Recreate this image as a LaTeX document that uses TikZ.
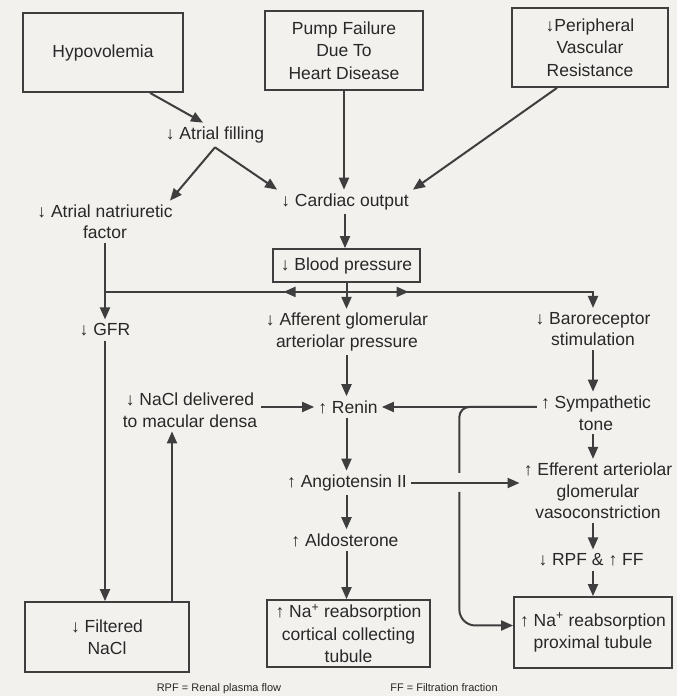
\documentclass[tikz,border=0pt]{standalone}
\usepackage{fontspec}
\setmainfont{Liberation Sans}
\usepackage{tikz}
\usetikzlibrary{arrows.meta, calc}
\definecolor{inkgray}{RGB}{62,62,62}
\definecolor{textgray}{RGB}{40,40,40}
\definecolor{paper}{RGB}{242,241,238}

\begin{document}
\begin{tikzpicture}[
			x=1pt, y=1pt,
			every node/.style={text=textgray},
			box/.style={rectangle, draw=inkgray, line width=1.8pt, align=center, font=\fontsize{17.5}{22.5}\selectfont, inner sep=3pt},
			lbl/.style={align=center, font=\fontsize{17.5}{21.5}\selectfont, inner sep=4pt},
			note/.style={font=\fontsize{11}{13}\selectfont, inner sep=1pt},
			link/.style={draw=inkgray, line width=2pt},
			arrow/.style={link, -{Triangle[length=12pt, width=10pt]}}
		]
		\fill[paper] (0,0) rectangle (677,696);
		\useasboundingbox (0,0) rectangle (677,696);

		% Causes
		\node[box, minimum width=160pt, minimum height=79pt] (hypo) at (103,643.5) {Hypovolemia};
		\node[box, minimum width=158pt, minimum height=79pt] (pump) at (344,645.5) {Pump Failure\\Due To\\Heart Disease};
		\node[box, minimum width=156pt, minimum height=79pt] (pvr) at (590,648.5) {↓Peripheral\\Vascular\\Resistance};

		\node[lbl] (atrfill) at (215,561) {↓ Atrial filling};
		\node[lbl] (anf) at (105,474) {↓ Atrial natriuretic\\factor};
		\node[lbl] (co) at (345,494) {↓ Cardiac output};
		\node[box, minimum width=147pt, minimum height=33pt] (bp) at (346.5,430.5) {↓ Blood pressure};

		\node[lbl] (gfr) at (105,366) {↓ GFR};
		\node[lbl] (aff) at (347,364) {↓ Afferent glomerular\\arteriolar pressure};
		\node[lbl] (baro) at (593,367) {↓ Baroreceptor\\stimulation};
		\node[lbl] (nacl) at (190,286) {↓ NaCl delivered\\to macular densa};
		\node[lbl] (renin) at (348,289) {↑ Renin};
		\node[lbl] (symp) at (596,283) {↑ Sympathetic\\tone};
		\node[lbl] (ang) at (347,213) {↑ Angiotensin II};
		\node[lbl] (eff) at (598,205) {↑ Efferent arteriolar\\glomerular\\vasoconstriction};
		\node[lbl] (ald) at (345,156) {↑ Aldosterone};
		\node[lbl] (rpf) at (591,136) {↓ RPF \& ↑ FF};

		% Outcomes
		\node[box, minimum width=164pt, minimum height=70pt] (filt) at (107,59) {↓ Filtered\\NaCl};
		\node[box, minimum width=163pt, minimum height=67pt] (cct) at (348.5,62.5) {↑ Na\textsuperscript{+} reabsorption\\cortical collecting\\tubule};
		\node[box, minimum width=158pt, minimum height=71pt] (prox) at (593,63.5) {↑ Na\textsuperscript{+} reabsorption\\proximal tubule};

		\node[note] (fn1) at (219,7) {RPF = Renal plasma flow};
		\node[note] (fn2) at (444,8) {FF = Filtration fraction};

		\draw[arrow] ([xshift=47pt]hypo.south) -- ([xshift=-12pt]atrfill.north);
		\draw[arrow] (atrfill.south) -- ([xshift=65pt]anf.north);
		\draw[arrow] (atrfill.south) -- (co.north west);
		\draw[arrow] (pump.south) -- (pump.south |- co.north);
		\draw[arrow] ([xshift=-33pt]pvr.south) -- (co.north east);
		\draw[arrow] (co.south) -- (co.south |- bp.north);

		% Blood pressure split
		\coordinate (split) at ([yshift=-9pt]bp.south);
		\draw[arrow] (bp.south) -- (bp.south |- aff.north);
		\draw[link] (split) -- (split -| anf.south);
		\draw[arrow] (split) -- ([xshift=-63pt]split);
		\draw[arrow] (split) -- ([xshift=62pt]split);
		\draw[arrow] (split) -- (split -| baro.north) -- (baro.north);
		\draw[arrow] (anf.south) -- (anf.south |- gfr.north);

		\draw[arrow] (aff.south -| bp.south) -- (renin.north -| bp.south);
		\draw[arrow] (renin.south -| bp.south) -- (ang.north -| bp.south);
		\draw[arrow] (ang.south -| bp.south) -- (ald.north -| bp.south);
		\draw[arrow] (ald.south -| bp.south) -- (cct.north -| bp.south);

		\draw[arrow] (baro.south) -- (baro.south |- symp.north);
		\draw[arrow] (symp.south -| baro.south) -- (eff.north -| baro.south);
		\draw[arrow] (eff.south -| baro.south) -- (rpf.north -| baro.south);
		\draw[arrow] (rpf.south -| baro.south) -- (prox.north -| baro.south);

		\draw[arrow] (gfr.south) -- (gfr.south |- filt.north);
		\draw[arrow] ([xshift=65pt]filt.north) -- ([xshift=65pt]filt.north |- nacl.south);
		\draw[arrow] (nacl.east |- renin.west) -- (renin.west);

		% Sympathetic branch
		\coordinate (tap) at (renin.east -| symp.west);
		\coordinate (elbow) at ($(renin.east)!.5!(tap)$);
		\draw[arrow] (tap) -- (renin.east);
		\draw[link, rounded corners=10pt] (tap) -- (elbow) -- ([yshift=10pt]elbow |- ang.east);
		\draw[arrow, rounded corners=16pt] ([yshift=-9pt]elbow |- ang.east) -- ([yshift=7pt]elbow |- prox.west) -- ([yshift=7pt]prox.west);
		\draw[arrow] (ang.east) -- (ang.east -| eff.west);
		\end{tikzpicture}
\end{document}
